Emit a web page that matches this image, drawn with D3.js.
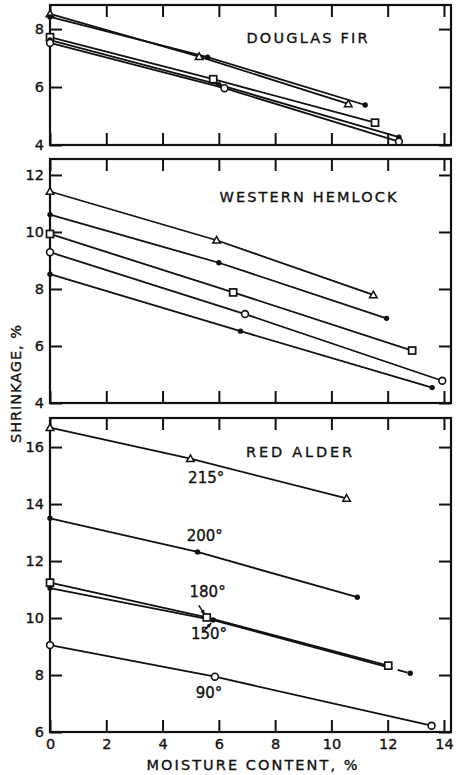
<!DOCTYPE html>
<html><head><meta charset="utf-8">
<script src="https://cdn.jsdelivr.net/npm/d3@7"></script>
<style>body{margin:0;background:#fff}svg{display:block}text{font-family:"DejaVu Sans",sans-serif;fill:#111;stroke:#111;stroke-width:0.35px}</style>
</head><body>
<script>
// ---- data ----
const xTicks = [0, 2, 4, 6, 8, 10, 12, 14];
const seriesLabels = ["215°", "200°", "180°", "150°", "90°"];
const seriesMarkers = ["triangle", "dot", "square", "dot", "circle"];

const firTicks = [4, 6, 8];
const fir215 = [[0, 8.52], [5.3, 7.05], [10.6, 5.42]];
const fir200 = [[0, 8.42], [5.6, 7.03], [11.2, 5.38]];
const fir180 = [[0, 7.72], [5.8, 6.27], [11.55, 4.77]];
const fir150 = [[0, 7.62], [6.0, 6.08], [12.4, 4.27]];
const fir90  = [[0, 7.52], [6.2, 5.96], [12.4, 4.12]];

const hemTicks = [4, 6, 8, 10, 12];
const hem215 = [[0, 11.42], [5.92, 9.71], [11.49, 7.79]];
const hem200 = [[0, 10.61], [6.0, 8.92], [11.96, 6.97]];
const hem180 = [[0, 9.93], [6.51, 7.88], [12.87, 5.84]];
const hem150 = [[0, 8.52], [6.77, 6.52], [13.58, 4.54]];
const hem90  = [[0, 9.29], [6.93, 7.12], [13.94, 4.78]];

const aldTicks = [6, 8, 10, 12, 14, 16];
const ald215 = [[0, 16.68], [4.99, 15.59], [10.54, 14.2]];
const ald200 = [[0, 13.5], [5.24, 12.32], [10.92, 10.73]];
const ald180 = [[0, 11.24], [5.57, 10.02], [12.02, 8.33]];
const ald150 = [[0, 11.05], [5.8, 9.93], [12.8, 8.06]];
const ald90  = [[0, 9.05], [5.86, 7.94], [13.56, 6.22]];
// label anchors (data coords) for each alder series
const aldLabelPos = [[5.55, 14.75], [5.5, 12.7], [5.6, 10.75], [5.65, 9.25], [5.65, 7.2]];

const panelTitles = ["DOUGLAS FIR", "WESTERN HEMLOCK", "RED ALDER"];

// ---- layout ----
const W = 461, H = 775;
const svg = d3.select("body").append("svg").attr("width", W).attr("height", H);
const x0 = 50, x1 = 451;
const x = d3.scaleLinear().domain([0, 14.25]).range([x0, x1]);

const panels = [
  {title: panelTitles[0], top: 5, bottom: 145, domain: [4, 8.83], ticks: firTicks,
   series: [fir215, fir200, fir180, fir150, fir90], titlePos: [307, 43], titleLen: 121},
  {title: panelTitles[1], top: 159, bottom: 403, domain: [4, 12.56], ticks: hemTicks,
   series: [hem215, hem200, hem180, hem150, hem90], titlePos: [308, 202], titleLen: 177},
  {title: panelTitles[2], top: 418, bottom: 732, domain: [6, 17.02], ticks: aldTicks,
   series: [ald215, ald200, ald180, ald150, ald90], titlePos: [299, 457], titleLen: 106},
];

function drawMarker(g, type, px, py) {
  if (type === "triangle") {
    const s = 3.8;
    g.append("path").attr("d", `M${px},${py - s}L${px + s},${py + s * 0.75}L${px - s},${py + s * 0.75}Z`)
      .attr("fill", "#fff").attr("stroke", "#111").attr("stroke-width", 1.5);
  } else if (type === "square") {
    g.append("rect").attr("x", px - 3.5).attr("y", py - 3.5).attr("width", 7).attr("height", 7)
      .attr("fill", "#fff").attr("stroke", "#111").attr("stroke-width", 1.7);
  } else if (type === "circle") {
    g.append("circle").attr("cx", px).attr("cy", py).attr("r", 3.4)
      .attr("fill", "#fff").attr("stroke", "#111").attr("stroke-width", 1.6);
  } else {
    g.append("circle").attr("cx", px).attr("cy", py).attr("r", 2.7).attr("fill", "#111");
  }
}

panels.forEach((p, pi) => {
  const y = d3.scaleLinear().domain(p.domain).range([p.bottom, p.top]);
  const g = svg.append("g");

  const bottomAx = d3.axisBottom(x).tickValues(xTicks).tickSize(-12).tickPadding(7)
    .tickFormat(pi === 2 ? d3.format("d") : "");
  const topAx = d3.axisTop(x).tickValues(xTicks).tickSize(-12).tickFormat("");
  const leftAx = d3.axisLeft(y).tickValues(p.ticks).tickSize(-12).tickPadding(6).tickFormat(d3.format("d"));
  const rightAx = d3.axisRight(y).tickValues(p.ticks).tickSize(-12).tickFormat("");
  const styleAx = sel => {
    sel.select(".domain").remove();
    sel.selectAll("line").attr("stroke", "#111").attr("stroke-width", 2);
    sel.selectAll("text").style("font-size", "14.5px").attr("fill", "#111");
  };
  g.append("g").attr("transform", `translate(0,${p.bottom})`).call(bottomAx).call(styleAx);
  g.append("g").attr("transform", `translate(0,${p.top})`).call(topAx).call(styleAx);
  g.append("g").attr("transform", `translate(${x0},0)`).call(leftAx).call(styleAx);
  g.append("g").attr("transform", `translate(${x1},0)`).call(rightAx).call(styleAx);

  g.append("rect").attr("x", x0).attr("y", p.top).attr("width", x1 - x0).attr("height", p.bottom - p.top)
    .attr("fill", "none").attr("stroke", "#111").attr("stroke-width", 2.2);

  const line = d3.line().x(d => x(d[0])).y(d => y(d[1]));
  p.series.forEach((s, si) => {
    const path = g.append("path").attr("d", line(s)).attr("fill", "none")
      .attr("stroke", "#111").attr("stroke-width", 1.8);
    if (pi === 2 && si === 3) {
      // last part of the 150° line, beyond the 180° end marker, is drawn dashed
      const sq = ald180[2];
      const a = s[0], b = s[1], c = s[2];
      const seg1 = Math.hypot(x(b[0]) - x(a[0]), y(b[1]) - y(a[1]));
      const seg2 = Math.hypot(x(c[0]) - x(b[0]), y(c[1]) - y(b[1]));
      const frac = (x(sq[0]) + 4 - x(b[0])) / (x(c[0]) - x(b[0]));
      const solid = seg1 + seg2 * frac;
      const rest = seg1 + seg2 - solid;
      path.attr("stroke-dasharray", `${solid},${rest * 0.3},${rest * 0.55},${rest}`);
    }
  });
  p.series.forEach((s, si) => {
    s.forEach(d => drawMarker(g, seriesMarkers[si], x(d[0]), y(d[1])));
  });

  g.append("text").attr("x", p.titlePos[0]).attr("y", p.titlePos[1]).attr("text-anchor", "middle")
    .attr("textLength", p.titleLen).attr("lengthAdjust", "spacing")
    .style("font-size", "14.5px").text(p.title);

  if (pi === 2) {
    seriesLabels.forEach((lab, si) => {
      const lp = aldLabelPos[si];
      g.append("text").attr("x", x(lp[0])).attr("y", y(lp[1])).attr("text-anchor", "middle")
        .style("font-size", "15px").text(lab);
    });
    const arrow = (fx, fy, tx, ty) => {
      g.append("line").attr("x1", fx).attr("y1", fy).attr("x2", tx).attr("y2", ty)
        .attr("stroke", "#111").attr("stroke-width", 1.5);
      const a = Math.atan2(ty - fy, tx - fx), L = 5;
      g.append("path").attr("d",
        `M${tx},${ty}L${tx - L * Math.cos(a - 0.45)},${ty - L * Math.sin(a - 0.45)}L${tx - L * Math.cos(a + 0.45)},${ty - L * Math.sin(a + 0.45)}Z`)
        .attr("fill", "#111");
    };
    const sq = ald180[1], dt = ald150[1];
    arrow(x(sq[0]) - 8, y(sq[1]) - 12, x(sq[0]) - 2, y(sq[1]) - 3);
    arrow(x(dt[0]) - 10, y(dt[1]) + 12, x(dt[0]) - 2, y(dt[1]) + 3);
  }
});

svg.append("text").attr("x", 252).attr("y", 770).attr("text-anchor", "middle")
  .attr("textLength", 211).attr("lengthAdjust", "spacing").style("font-size", "14.5px")
  .text("MOISTURE CONTENT, %");
svg.append("text").attr("transform", "translate(21,384) rotate(-90)").attr("text-anchor", "middle")
  .attr("textLength", 118).attr("lengthAdjust", "spacing").style("font-size", "14.5px")
  .text("SHRINKAGE, %");
</script>
</body></html>
